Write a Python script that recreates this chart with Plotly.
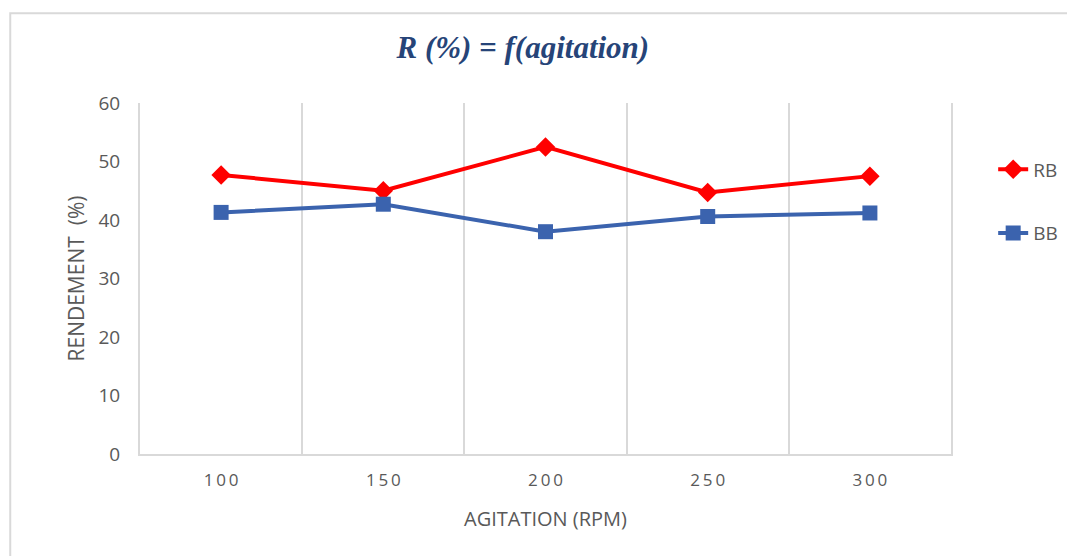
import plotly.graph_objects as go

# Agitation speeds (RPM) and yields (%)
agitation = [100, 150, 200, 250, 300]
tick_labels = ["100", "150", "200", "250", "300"]
rb_yield = [47.7, 45.0, 52.5, 44.7, 47.5]
bb_yield = [41.3, 42.7, 38.0, 40.6, 41.2]

GREY_TXT = "#595959"
GRID = "#d9d9d9"
FONT = "Open Sans, Liberation Sans, sans-serif"

fig = go.Figure()
fig.add_trace(go.Scatter(
    x=agitation, y=rb_yield, name="RB", mode="lines+markers",
    line=dict(color="#FF0000", width=4),
    marker=dict(symbol="diamond", size=15, color="#FF0000"),
    legendgroup="rb",
))
fig.add_trace(go.Scatter(
    x=agitation, y=bb_yield, name="BB", mode="lines+markers",
    line=dict(color="#3B63AE", width=4),
    marker=dict(symbol="square", size=15, color="#3B63AE"),
    legendgroup="bb",
))

fig.update_layout(
    width=1067, height=556,
    margin=dict(l=140, r=116, t=103, b=102, autoexpand=False),
    paper_bgcolor="white", plot_bgcolor="white",
    font=dict(family=FONT, color=GREY_TXT, size=16),
    title=dict(
        text="<b><i>R (%) = f(agitation)</i></b>",
        x=0.49, xanchor="center", y=0.915, yanchor="middle",
        font=dict(family="Liberation Serif, serif", size=31, color="#264478"),
    ),
    showlegend=True,
    legend=dict(
        x=1.052, xanchor="left", y=0.865, yanchor="top",
        font=dict(size=19, color=GREY_TXT),
        tracegroupgap=36, bgcolor="rgba(0,0,0,0)",
    ),
    xaxis=dict(
        range=[75, 325], tickvals=agitation,
        ticktext=["\u2009".join(t) for t in tick_labels],
        showgrid=False, zeroline=False,
        showline=True, linecolor=GRID, linewidth=2,
        tickfont=dict(size=17, color=GREY_TXT),
        ticks="", ticklabelstandoff=10,
        minor=dict(tick0=75, dtick=50, showgrid=True, gridcolor=GRID, gridwidth=2),
        title=dict(text="AGITATION (RPM)", font=dict(size=20, color=GREY_TXT), standoff=22),
    ),
    yaxis=dict(
        range=[0, 60], dtick=10, showgrid=False, zeroline=False,
        showline=True, mirror=True, linecolor=GRID, linewidth=2,
        ticks="", ticklabelstandoff=14,
        tickfont=dict(size=19, color=GREY_TXT),
        title=dict(text="RENDEMENT  (%)", font=dict(size=21, color=GREY_TXT), standoff=8),
    ),
    shapes=[dict(
        type="rect", xref="paper", yref="paper",
        x0=-0.160, x1=1.3, y0=-0.5, y1=1.256,
        line=dict(color=GRID, width=2), fillcolor="rgba(0,0,0,0)", layer="below",
    )],
)

fig.write_html("out.html")
